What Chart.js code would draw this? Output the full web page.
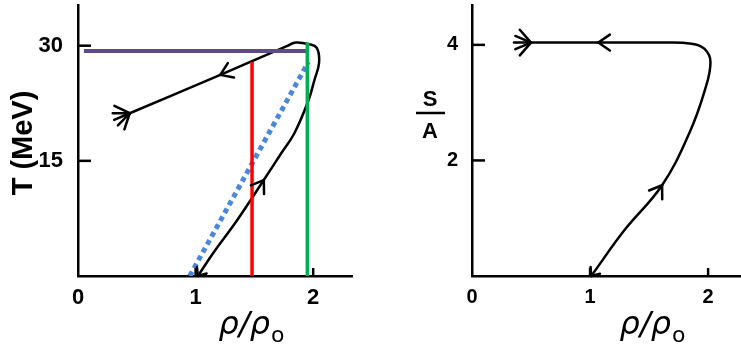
<!DOCTYPE html>
<html>
<head>
<meta charset="utf-8">
<script src="https://cdn.jsdelivr.net/npm/chart.js@4.4.1/dist/chart.umd.min.js"></script>
<style>
  body { margin: 0; background: #fff; }
  #wrap { position: relative; width: 741px; height: 348px; }
  canvas { position: absolute; top: 0; }
</style>
</head>
<body>
<div id="wrap">
  <canvas id="left" width="370" height="348" style="left:0"></canvas>
  <canvas id="right" width="371" height="348" style="left:370px"></canvas>
</div>
<script>
// ---- left panel: T (MeV) vs rho/rho0 ----
const leftRho = [1.02, 1.15, 1.35, 1.58, 1.72, 1.84, 1.96, 2.01, 2.05, 2.03, 1.96, 1.85, 1.77, 1.21, 0.44];
const leftT   = [0,    3.0,  7.2,  12.5, 15.8, 18.6, 22.9, 25.5, 27.8, 29.7, 30.2, 30.4, 29.9, 26.2, 21.2];
const leftHeads = [3, 13];

const purpleRho = [0.05, 1.96];
const purpleT   = [29.3, 29.3];
const redRho = [1.48, 1.48];
const redT   = [0, 27.9];
const greenRho = [1.95, 1.95];
const greenT   = [0, 30.4];
const blueRho = [0.95, 1.96];
const blueT   = [0, 27.9];

const leftXTicks = [0, 1, 2];
const leftYTicks = [15, 30];

// ---- right panel: S/A vs rho/rho0 ----
const rightRho = [1.01, 1.29, 1.61, 1.84, 1.97, 2.02, 1.97, 1.86, 1.60, 1.07, 0.50];
const rightS   = [0,    0.79, 1.57, 2.47, 3.20, 3.70, 3.93, 4.02, 4.04, 4.04, 4.04];
const rightHeads = [2, 9];

const rightXTicks = [0, 1, 2];
const rightYTicks = [2, 4];

const pts = (xs, ys) => xs.map((x, i) => ({ x, y: ys[i] }));

// arrowheads along the path, a small tip at the start and a feathered tail at the end
const arrowPlugin = {
  id: "pathArrows",
  afterDatasetsDraw(chart) {
    const ctx = chart.ctx;
    chart.data.datasets.forEach((ds, di) => {
      if (!ds.heads) return;
      const p = chart.getDatasetMeta(di).data;
      ctx.save();
      ctx.strokeStyle = "#000";
      ctx.lineWidth = 2.5;
      ctx.lineCap = "round";
      const chevron = (tx, ty, dx, dy, len, ang) => {
        const l = Math.hypot(dx, dy); dx /= l; dy /= l;
        [ang, -ang].forEach(a => {
          const c = Math.cos(a), s = Math.sin(a);
          const rx = dx * c - dy * s, ry = dx * s + dy * c;
          ctx.beginPath();
          ctx.moveTo(tx, ty);
          ctx.lineTo(tx - rx * len, ty - ry * len);
          ctx.stroke();
        });
      };
      ds.heads.forEach(i => {
        const e = p[i];
        let dx = e.cp2x - e.cp1x, dy = e.cp2y - e.cp1y;
        if (!isFinite(dx) || (dx === 0 && dy === 0)) { dx = p[i + 1].x - p[i - 1].x; dy = p[i + 1].y - p[i - 1].y; }
        chevron(e.x, e.y, dx, dy, 14, 0.6);
      });
      // start tip, pointing back to the start
      const s0 = p[0], s1 = p[1];
      chevron(s0.x, s0.y, s0.x - s1.x, s0.y - s1.y, 9, 0.7);
      // feathered end
      const n = p.length - 1, a = p[n], b = p[n - 1];
      let dx = a.x - b.x, dy = a.y - b.y;
      const l = Math.hypot(dx, dy); dx /= l; dy /= l;
      [-0.85, -0.4, 0, 0.4, 0.85].forEach(t => {
        const c = Math.cos(t), s = Math.sin(t);
        const rx = dx * c - dy * s, ry = dx * s + dy * c;
        ctx.beginPath();
        ctx.moveTo(a.x, a.y);
        ctx.lineTo(a.x + rx * 17, a.y + ry * 17);
        ctx.stroke();
      });
      ctx.restore();
    });
  }
};

// short tick marks drawn inside the plot
const innerTicks = {
  id: "innerTicks",
  afterDraw(chart) {
    const ctx = chart.ctx, area = chart.chartArea;
    const xs = chart.scales.x, ys = chart.scales.y;
    ctx.save();
    ctx.strokeStyle = "#000";
    ctx.lineWidth = 2.5;
    xs.ticks.forEach(t => {
      if (t.value === 0) return;
      const px = xs.getPixelForValue(t.value);
      ctx.beginPath(); ctx.moveTo(px, area.bottom); ctx.lineTo(px, area.bottom - 8); ctx.stroke();
    });
    ys.ticks.forEach(t => {
      const py = ys.getPixelForValue(t.value);
      ctx.beginPath(); ctx.moveTo(area.left, py); ctx.lineTo(area.left + 13, py); ctx.stroke();
    });
    ctx.restore();
  }
};

function rhoTitle(ctx, cx, base) {
  ctx.save();
  ctx.fillStyle = "#000";
  ctx.textBaseline = "alphabetic";
  ctx.textAlign = "left";
  const main = "ρ/ρ", sub = "o";
  ctx.font = "italic 32px 'DejaVu Sans'";
  const w1 = ctx.measureText(main).width;
  ctx.font = "22px 'DejaVu Sans'";
  const w2 = ctx.measureText(sub).width;
  const x0 = cx - (w1 + w2) / 2;
  ctx.font = "italic 32px 'DejaVu Sans'";
  ctx.fillText(main, x0, base);
  ctx.font = "22px 'DejaVu Sans'";
  ctx.fillText(sub, x0 + w1 + 1, base + 8);
  ctx.restore();
}

function scales(xMax, yMax, xTicks, yTicks, yWidth, fontSize, yPad) {
  const tickFont = { family: "'Liberation Sans', Arial, sans-serif", size: fontSize, weight: "bold" };
  return {
    x: {
      type: "linear", min: 0, max: xMax,
      afterBuildTicks: s => { s.ticks = xTicks.map(v => ({ value: v })); },
      afterFit: s => { s.height = 72; s.paddingLeft = 0; s.paddingRight = 0; },
      grid: { drawOnChartArea: false, drawTicks: false },
      border: { color: "#000", width: 2.5 },
      ticks: { color: "#000", font: tickFont, padding: 9, autoSkip: false, maxRotation: 0 }
    },
    y: {
      type: "linear", min: 0, max: yMax,
      afterBuildTicks: s => { s.ticks = yTicks.map(v => ({ value: v })); },
      afterFit: s => { s.width = yWidth; s.paddingTop = 0; s.paddingBottom = 0; },
      grid: { drawOnChartArea: false, drawTicks: false },
      border: { color: "#000", width: 2.5 },
      ticks: { color: "#000", font: tickFont, padding: yPad, autoSkip: false }
    }
  };
}

const line = (data, color, width, order, extra) => Object.assign({
  data, borderColor: color, borderWidth: width, showLine: true, pointRadius: 0,
  fill: false, order, tension: 0
}, extra || {});

new Chart(document.getElementById("left").getContext("2d"), {
  type: "scatter",
  data: {
    datasets: [
      line(pts(leftRho, leftT), "#000", 2.5, 5, { tension: 0.4, heads: leftHeads }),
      line(pts(blueRho, blueT), "#4a88da", 5, 4, { borderDash: [5, 4] }),
      line(pts(purpleRho, purpleT), "#5e4a86", 4, 3),
      line(pts(redRho, redT), "#ff0000", 3.5, 2),
      line(pts(greenRho, greenT), "#00b050", 3.5, 1)
    ]
  },
  options: {
    responsive: false,
    animation: false,
    layout: { padding: { left: 0, top: 5, right: 18, bottom: 0 } },
    scales: scales(2.33, 35.3, leftXTicks, leftYTicks, 78, 22, 15),
    plugins: { legend: { display: false }, tooltip: { enabled: false } }
  },
  plugins: [arrowPlugin, innerTicks, {
    id: "leftTitles",
    afterDraw(chart) {
      const ctx = chart.ctx;
      ctx.save();
      ctx.fillStyle = "#000";
      ctx.font = "bold 29px 'Liberation Sans', Arial, sans-serif";
      ctx.translate(32, 143);
      ctx.rotate(-Math.PI / 2);
      ctx.textAlign = "center";
      ctx.textBaseline = "alphabetic";
      ctx.fillText("T (MeV)", 0, 0);
      ctx.restore();
      rhoTitle(ctx, 251, 334);
    }
  }]
});

new Chart(document.getElementById("right").getContext("2d"), {
  type: "scatter",
  data: {
    datasets: [
      line(pts(rightRho, rightS), "#000", 2.5, 1, { tension: 0.4, heads: rightHeads })
    ]
  },
  options: {
    responsive: false,
    animation: false,
    layout: { padding: { left: 0, top: 5, right: 1, bottom: 0 } },
    scales: scales(2.27, 4.69, rightXTicks, rightYTicks, 102, 20, 14),
    plugins: { legend: { display: false }, tooltip: { enabled: false } }
  },
  plugins: [arrowPlugin, innerTicks, {
    id: "rightTitles",
    afterDraw(chart) {
      const ctx = chart.ctx;
      ctx.save();
      ctx.fillStyle = "#000";
      ctx.strokeStyle = "#000";
      ctx.font = "bold 22px 'Liberation Sans', Arial, sans-serif";
      ctx.textAlign = "center";
      ctx.textBaseline = "alphabetic";
      ctx.fillText("S", 60, 106);
      ctx.lineWidth = 2.5;
      ctx.beginPath(); ctx.moveTo(46, 113); ctx.lineTo(75, 113); ctx.stroke();
      ctx.fillText("A", 60, 138);
      ctx.restore();
      rhoTitle(ctx, 282, 334);
    }
  }]
});
</script>
</body>
</html>
